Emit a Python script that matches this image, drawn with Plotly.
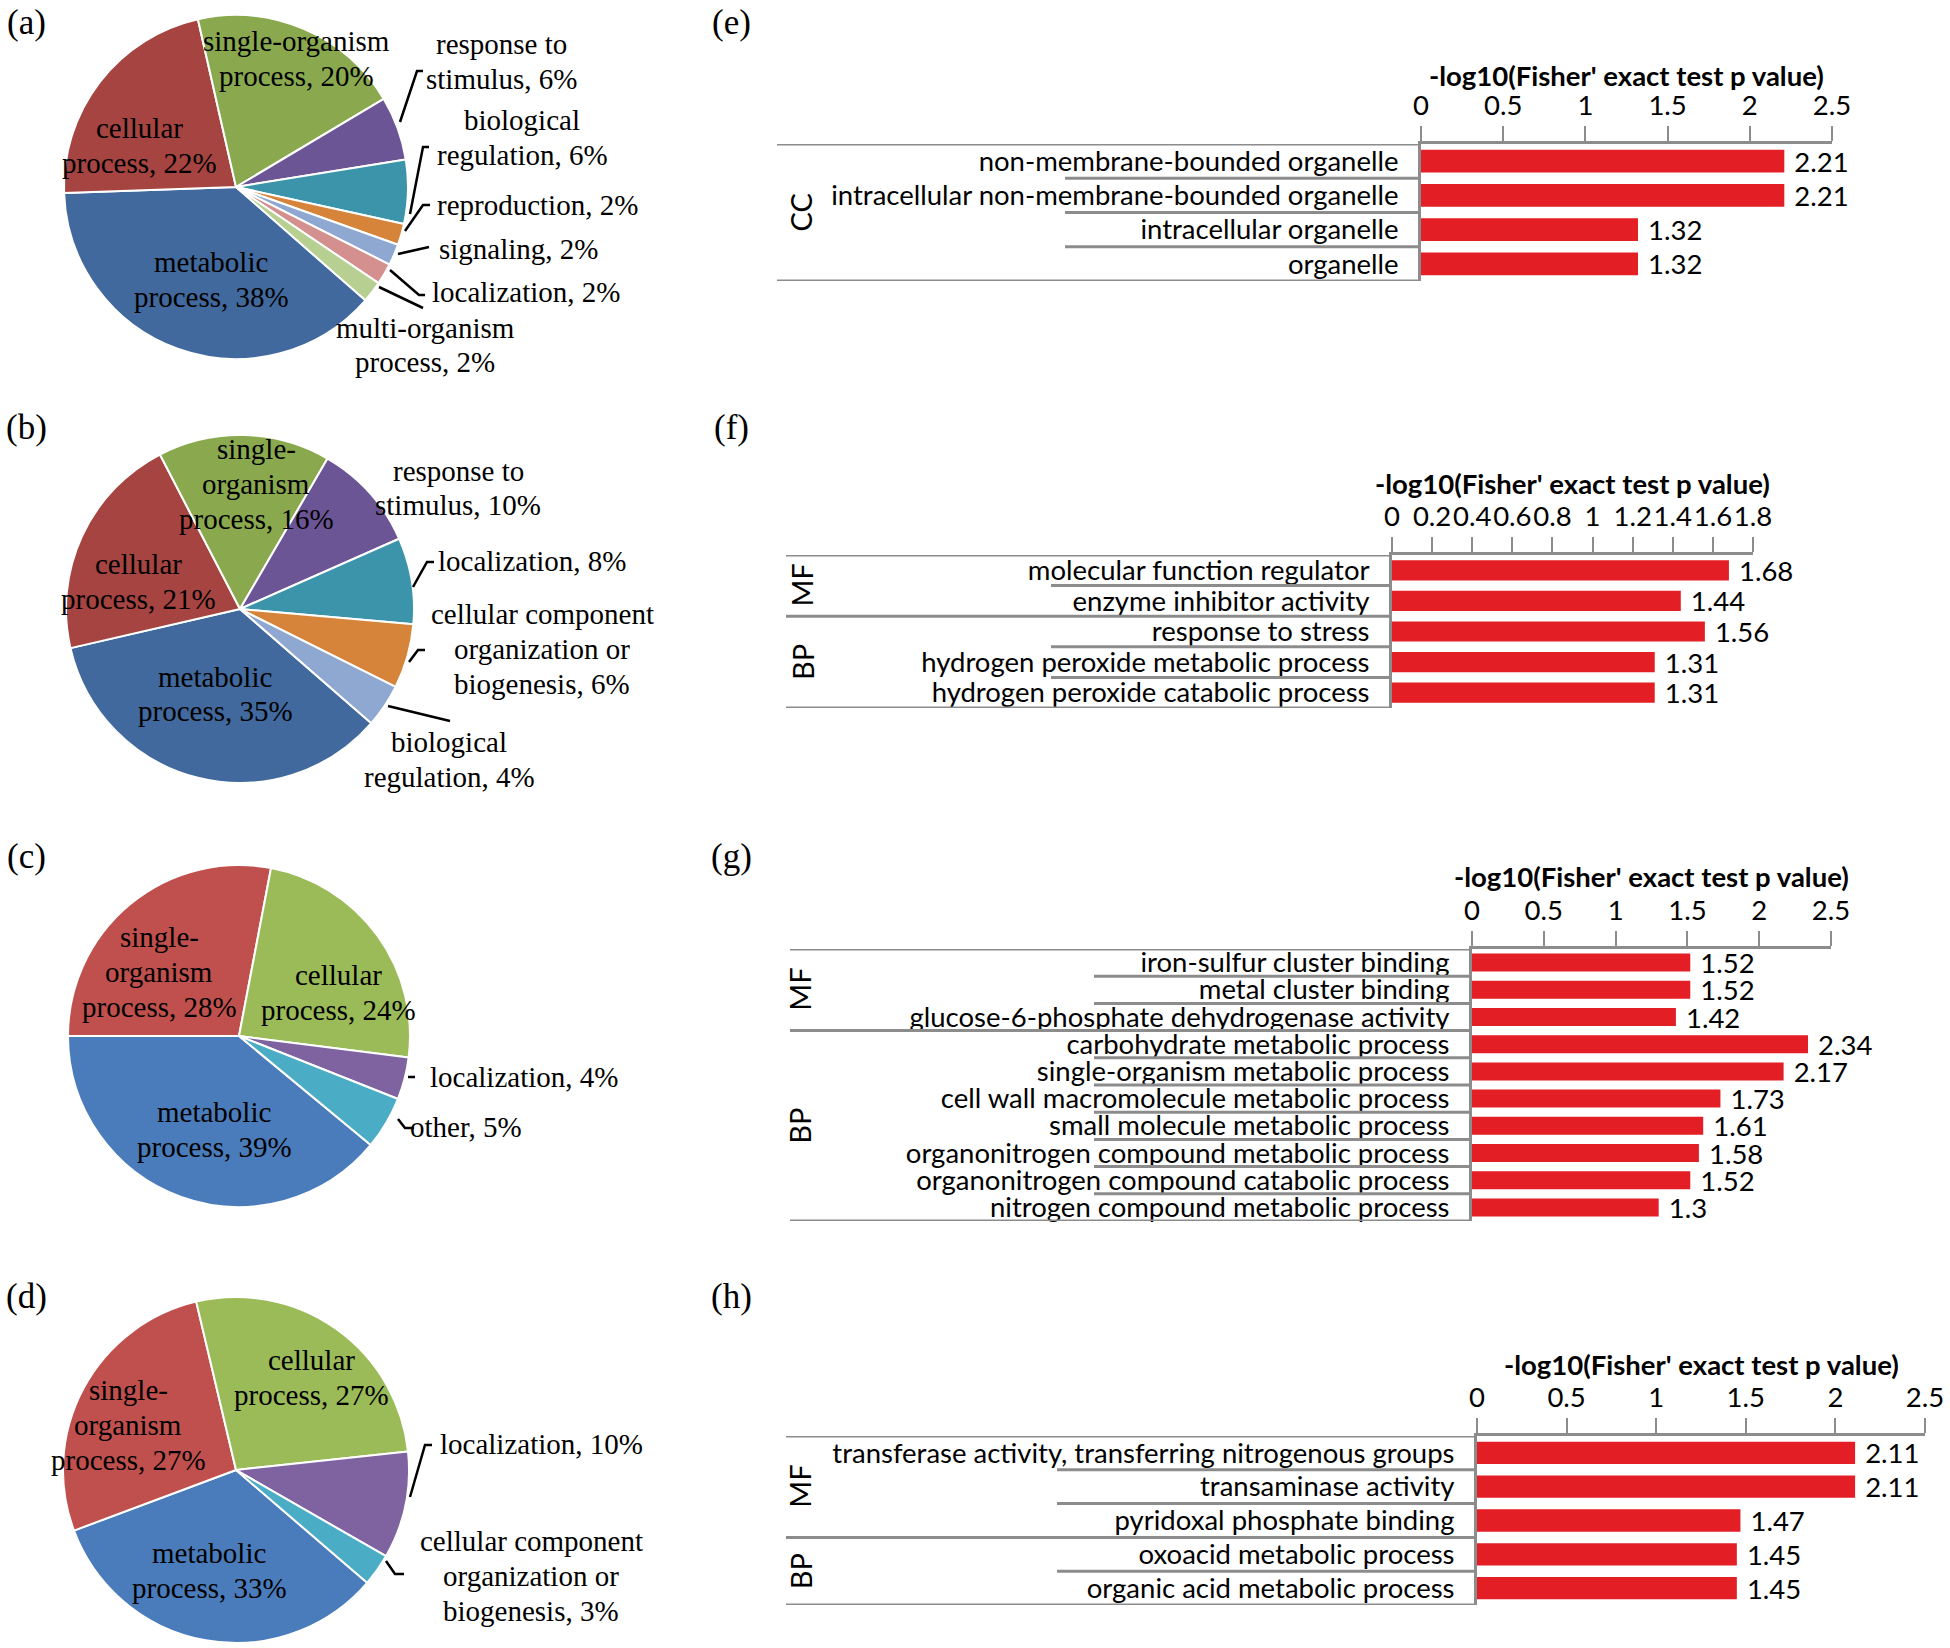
import plotly.graph_objects as go

W, H = 1950, 1648

# ---------------- pie data ----------------
a_names = ["metabolic<br>process", "cellular<br>process", "single-organism<br>process", "response to<br>stimulus",
           "biological<br>regulation", "reproduction", "signaling", "localization", "multi-organism<br>process"]
a_values = [38, 22, 20, 6, 6, 2, 2, 2, 2]

b_names = ["metabolic<br>process", "cellular<br>process", "single-<br>organism<br>process", "response to<br>stimulus",
           "localization", "cellular component<br>organization or<br>biogenesis", "biological<br>regulation"]
b_values = [35, 21, 16, 10, 8, 6, 4]

c_names = ["metabolic<br>process", "single-<br>organism<br>process", "cellular<br>process", "localization", "other"]
c_values = [39, 28, 24, 4, 5]

d_names = ["metabolic<br>process", "single-<br>organism<br>process", "cellular<br>process", "localization",
           "cellular component<br>organization or<br>biogenesis"]
d_values = [33, 27, 27, 10, 3]

# ---------------- bar data ----------------
e_terms = ["non-membrane-bounded organelle", "intracellular non-membrane-bounded organelle",
           "intracellular organelle", "organelle"]
e_values = [2.21, 2.21, 1.32, 1.32]
e_groups = ["CC", "CC", "CC", "CC"]

f_terms = ["molecular function regulator", "enzyme inhibitor activity", "response to stress",
           "hydrogen peroxide metabolic process", "hydrogen peroxide catabolic process"]
f_values = [1.68, 1.44, 1.56, 1.31, 1.31]
f_groups = ["MF", "MF", "BP", "BP", "BP"]

g_terms = ["iron-sulfur cluster binding", "metal cluster binding", "glucose-6-phosphate dehydrogenase activity",
           "carbohydrate metabolic process", "single-organism metabolic process",
           "cell wall macromolecule metabolic process", "small molecule metabolic process",
           "organonitrogen compound metabolic process", "organonitrogen compound catabolic process",
           "nitrogen compound metabolic process"]
g_values = [1.52, 1.52, 1.42, 2.34, 2.17, 1.73, 1.61, 1.58, 1.52, 1.3]
g_groups = ["MF", "MF", "MF", "BP", "BP", "BP", "BP", "BP", "BP", "BP"]

h_terms = ["transferase activity, transferring nitrogenous groups", "transaminase activity",
           "pyridoxal phosphate binding", "oxoacid metabolic process", "organic acid metabolic process"]
h_values = [2.11, 2.11, 1.47, 1.45, 1.45]
h_groups = ["MF", "MF", "MF", "BP", "BP"]

AXIS_TITLE = "-log10(Fisher' exact test p value)"

# ---------------- styles ----------------
a_cols = ["#41699d", "#a54441", "#8aa94f", "#6b5595", "#3b94aa", "#d6843a", "#8ea8d1", "#d4908e", "#b7cf91"]
b_cols = ["#41699d", "#a54441", "#8aa94f", "#6b5595", "#3b94aa", "#d6843a", "#8ea8d1"]
c_cols = ["#4a7cbb", "#c0504d", "#9bbb59", "#7f63a1", "#4aacc5"]
d_cols = ["#4a7cbb", "#c0504d", "#9bbb59", "#7f63a1", "#4aacc5"]

SERIF = "Liberation Serif, Times New Roman, serif"
SANS = "Lato, Carlito, Calibri, sans-serif"
LINE = "#8c8c8c"
BAR = "#e31e25"
PIE_FS = 29
PIE_LH = 35
BAR_FS = 27.5


def px(x):
    return x / W


def py(y):
    return 1 - y / H


fig = go.Figure()
annotations = []
shapes = []

# ---------------- pies ----------------
pies = [
    # values, names, colors, center, radius, rotation, label centres, leader paths
    (a_values, a_names, a_cols, (236, 187), 172, 131.2,
     [(211, 279), (139, 146), (296, 59), (501, 61), (522, 138), (537, 205), (519, 249), (526, 292), (425, 345)],
     [[(400, 122), (417, 71), (423, 71)], [(410, 214), (423, 147), (429, 147)],
      [(405, 231), (423, 205), (430, 205)], [(398, 254), (429, 247)],
      [(390, 270), (419, 295), (425, 295)], [(379, 287), (423, 308)]]),
    (b_values, b_names, b_cols, (240, 609), 174, 131.0,
     [(215, 694), (138, 581), (256, 484), (458, 488), (532, 561), (542, 649), (449, 759)],
     [[(413, 587), (427, 562), (434, 562)], [(409, 662), (418, 650), (425, 650)],
      [(388, 706), (450, 721)]]),
    (c_values, c_names, c_cols, (239, 1036), 171, 129.6,
     [(214, 1129), (159, 972), (338, 992), (524, 1077), (466, 1127)],
     [[(408, 1077), (415, 1077)], [(398, 1119), (405, 1128), (414, 1128)]]),
    (d_values, d_names, d_cols, (236, 1470), 173, 130.7,
     [(209, 1570), (128, 1425), (311, 1377), (541, 1444), (531, 1576)],
     [[(410, 1497), (425, 1445), (432, 1445)], [(386, 1561), (395, 1574), (404, 1574)]]),
]

for vals, names, cols, (cx, cy), r, rot, lpos, leaders in pies:
    fig.add_trace(go.Pie(
        values=vals, labels=[n.replace("<br>", " ") for n in names], sort=False,
        direction="clockwise", rotation=rot, textinfo="none", hoverinfo="label+percent",
        marker=dict(colors=cols, line=dict(color="white", width=2)),
        domain=dict(x=[px(cx - r), px(cx + r)], y=[py(cy + r), py(cy - r)]),
        showlegend=False,
    ))
    for n, v, (lx, ly) in zip(names, vals, lpos):
        lines = f"{n}, {v}%".split("<br>")
        y0 = ly - (len(lines) - 1) * PIE_LH / 2
        for j, ln in enumerate(lines):
            annotations.append(dict(
                x=px(lx), y=py(y0 + j * PIE_LH), xref="paper", yref="paper", text=ln,
                showarrow=False, xanchor="center", yanchor="middle", align="center",
                font=dict(family=SERIF, size=PIE_FS, color="black"),
            ))
    for path in leaders:
        d = "M " + " L ".join(f"{px(x)},{py(y)}" for x, y in path)
        shapes.append(dict(type="path", path=d, xref="paper", yref="paper",
                           line=dict(color="black", width=2.5)))

# panel letters
for letter, (lx, ly) in zip("abcdefgh", [(26, 22), (26, 427), (26, 856), (26, 1296),
                                           (731, 22), (731, 427), (731, 856), (731, 1296)]):
    annotations.append(dict(x=px(lx), y=py(ly), xref="paper", yref="paper", text=f"({letter})",
                            showarrow=False, xanchor="center", yanchor="middle",
                            font=dict(family=SERIF, size=35, color="black")))

# ---------------- bars ----------------
# terms, values, groups, left, zero, end, top, bottom, xmax, dtick, inner-line start, group-label x, title y
bars = [
    (e_terms, e_values, e_groups, 777, 1421, 1832, 144, 281, 2.5, 0.5, 1065, 800, 75),
    (f_terms, f_values, f_groups, 786, 1392, 1753, 555, 708, 1.8, 0.2, 1051, 802, 483),
    (g_terms, g_values, g_groups, 790, 1472, 1831, 949, 1221, 2.5, 0.5, 1094, 800, 877),
    (h_terms, h_values, h_groups, 786, 1477, 1925, 1436, 1605, 2.5, 0.5, 1057, 800, 1364),
]

layout_axes = {}
for k, (terms, vals, groups, left, zero, end, top, bottom, xmax, dtick, inner, gx, ty) in enumerate(bars, start=1):
    xa = "x" if k == 1 else f"x{k}"
    ya = "y" if k == 1 else f"y{k}"
    n = len(terms)
    fig.add_trace(go.Bar(
        x=vals, y=list(range(n)), orientation="h", xaxis=xa, yaxis=ya,
        marker=dict(color=BAR, line=dict(width=0)), width=0.66,
        texttemplate=" %{x}", textposition="outside", cliponaxis=False, constraintext="none",
        textfont=dict(family=SANS, size=BAR_FS, color="black"), showlegend=False,
    ))
    layout_axes["xaxis" if k == 1 else f"xaxis{k}"] = dict(
        domain=[px(zero), px(end)], anchor=ya, side="top", range=[0, xmax], dtick=dtick, tick0=0,
        showline=True, linecolor=LINE, linewidth=3, ticks="outside", ticklen=15, tickwidth=2,
        tickcolor=LINE, showgrid=False, zeroline=False, tickangle=0, automargin=False,
        tickfont=dict(family=SANS, size=BAR_FS, color="black"), fixedrange=True,
    )
    layout_axes["yaxis" if k == 1 else f"yaxis{k}"] = dict(
        domain=[py(bottom), py(top)], anchor=xa, range=[n - 0.5, -0.5],
        tickvals=list(range(n)), ticktext=terms, showline=True, linecolor=LINE, linewidth=3,
        ticks="", showgrid=False, zeroline=False, automargin=False, ticklabelstandoff=14,
        tickfont=dict(family=SANS, size=BAR_FS, color="black"), fixedrange=True,
    )
    yref = ya
    # top and bottom lines extending over the label area
    for yy in (-0.5, n - 0.5):
        shapes.append(dict(type="line", xref="paper", yref=yref, x0=px(left), x1=px(zero), y0=yy, y1=yy,
                           line=dict(color=LINE, width=3)))
    # separators
    for i in range(n - 1):
        start = left if groups[i] != groups[i + 1] else inner
        shapes.append(dict(type="line", xref="paper", yref=yref, x0=px(start), x1=px(zero),
                           y0=i + 0.5, y1=i + 0.5, line=dict(color=LINE, width=3)))
    # group labels
    gi = 0
    while gi < n:
        gj = gi
        while gj + 1 < n and groups[gj + 1] == groups[gi]:
            gj += 1
        annotations.append(dict(x=px(gx), y=(gi + gj) / 2, xref="paper", yref=yref, text=groups[gi],
                                textangle=-90, showarrow=False, xanchor="center", yanchor="middle",
                                font=dict(family=SANS, size=29, color="black")))
        gi = gj + 1
    # axis title
    annotations.append(dict(x=px((zero + end) / 2), y=py(ty), xref="paper", yref="paper",
                            text=f"<b>{AXIS_TITLE}</b>", showarrow=False, xanchor="center", yanchor="middle",
                            font=dict(family=SANS, size=BAR_FS, color="black")))

fig.update_layout(
    width=W, height=H, margin=dict(l=0, r=0, t=0, b=0),
    paper_bgcolor="white", plot_bgcolor="white",
    annotations=annotations, shapes=shapes, bargap=0.34,
    **layout_axes,
)

fig.write_html("out.html", config={"displayModeBar": False},
               post_script="document.body.style.margin='0px';")
